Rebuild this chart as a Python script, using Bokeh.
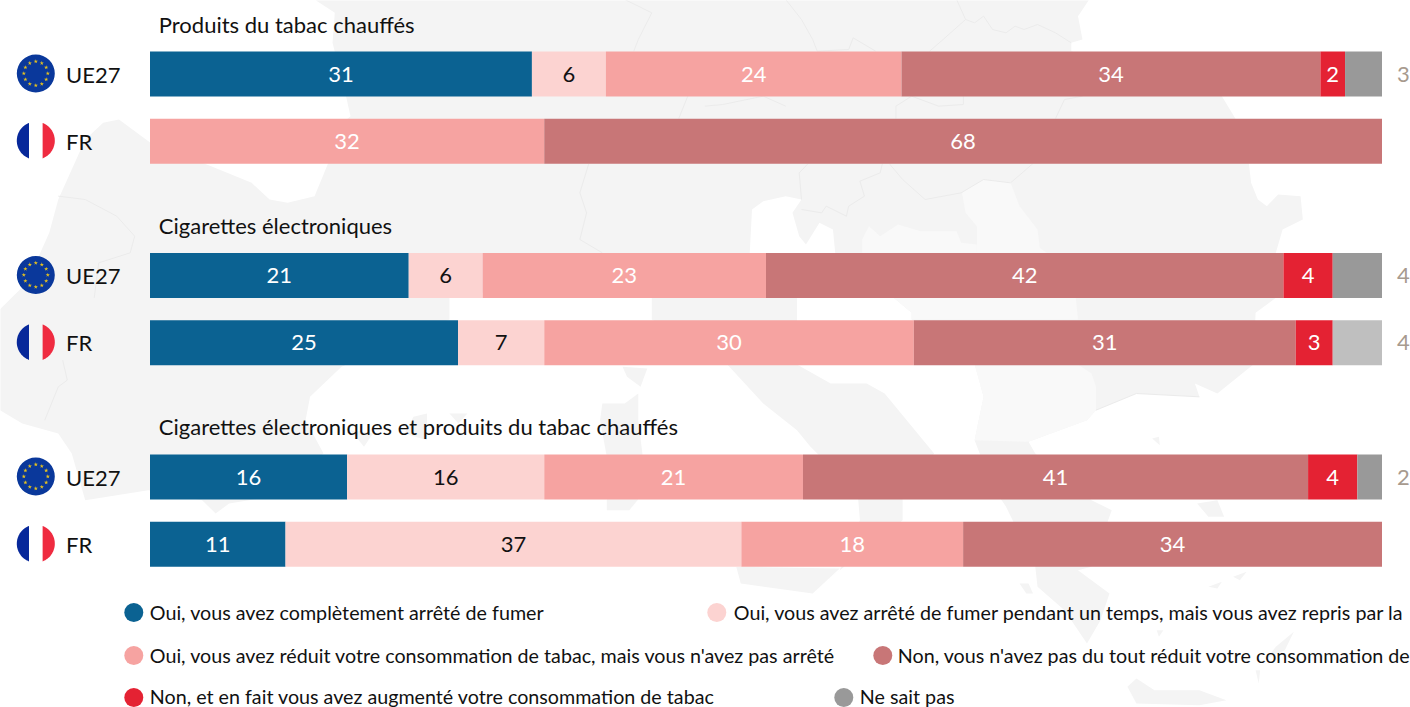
import numpy as np
from bokeh.plotting import figure
from bokeh.models import Range1d
from bokeh.core.properties import value
from bokeh.embed import file_html
from bokeh.resources import INLINE

# ---- data ----
group_titles = ["Produits du tabac chauffés", "Cigarettes électroniques",
                "Cigarettes électroniques et produits du tabac chauffés"]
row_labels = ["UE27", "FR", "UE27", "FR", "UE27", "FR"]
rows = [0, 1, 3, 4, 6, 7]
quit_full = [31, 0, 21, 25, 16, 11]
quit_temp = [6, 0, 6, 7, 16, 37]
reduced = [24, 32, 23, 30, 21, 18]
not_reduced = [34, 68, 42, 31, 41, 34]
increased = [2, 0, 4, 3, 4, 0]
dont_know = [3, 0, 4, 4, 2, 0]
series = [quit_full, quit_temp, reduced, not_reduced, increased, dont_know]
colors = ["#0b6292", "#fcd3d1", "#f6a3a1", "#c87677", "#e42233", "#999999"]
label_colors = ["white", "#111111", "white", "white", "white", None]
legend_labels = [
    "Oui, vous avez complètement arrêté de fumer",
    "Oui, vous avez arrêté de fumer pendant un temps, mais vous avez repris par la",
    "Oui, vous avez réduit votre consommation de tabac, mais vous n'avez pas arrêté",
    "Non, vous n'avez pas du tout réduit votre consommation de",
    "Non, et en fait vous avez augmenté votre consommation de tabac",
    "Ne sait pas",
]
FONT = "Lato"

# ---- layout (page pixels) ----
W, H = 1410, 707
X0, PXU = 149.5, 12.32
Y0, ROW = 73.5, 67.17
BAR_H = 45 / ROW

p = figure(width=W, height=H, output_backend="svg", toolbar_location=None,
           x_range=Range1d(-X0 / PXU, (W - X0) / PXU),
           y_range=Range1d((H - Y0) / ROW, -Y0 / ROW),
           min_border=0, outline_line_color=None)
p.xaxis.visible = False
p.yaxis.visible = False
p.grid.visible = False
p.background_fill_color = "white"
p.border_fill_color = "white"
p.extra_x_ranges["px"] = Range1d(0.7, W + 0.7)
p.extra_y_ranges["px"] = Range1d(H + 1, 1)


# ---- faint background map, traced in page pixels from zoomed crops ----
def Z(panel, pts):
    ox, oy = {6: (0, 0), 7: (705, 0), 8: (0, 354), 9: (705, 354)}[panel]
    return [(x / 2.224 + ox, y / 3 + oy) for x, y in pts]


land = (
    Z(6, [(700, 0), (745, 40), (740, 130), (770, 290), (780, 350), (735, 400), (730, 492), (700, 590),
          (640, 610), (600, 600), (560, 550), (470, 500), (335, 430), (265, 360), (230, 370), (190, 420),
          (130, 600), (110, 700), (60, 850), (0, 930)])
    + Z(8, [(0, 170), (50, 210), (130, 240), (160, 300), (190, 440), (330, 410), (450, 440), (480, 480),
            (510, 450), (600, 430), (720, 300), (680, 200), (690, 130), (760, 40)])
    + Z(6, [(1000, 960), (1000, 895), (1000, 880), (1450, 880), (1450, 960)])
    + Z(9, [(50, 33), (130, 150), (205, 230), (235, 280), (340, 420), (345, 500), (300, 650), (255, 700),
            (310, 640), (440, 500), (440, 430), (510, 300), (400, 120), (360, 90), (280, 90), (205, 33)])
    + Z(7, [(205, 960), (205, 880), (100, 760), (105, 630), (130, 605), (180, 590), (215, 600), (195, 640),
            (210, 710), (225, 735), (255, 670), (285, 690), (290, 760), (345, 895), (420, 895), (460, 940),
            (460, 960)])
    + Z(9, [(600, 30), (620, 130), (600, 260), (640, 400), (670, 460), (735, 640), (740, 700), (800, 770),
            (850, 870), (880, 800), (900, 720), (830, 650), (860, 640), (905, 470), (860, 440), (735, 300),
            (720, 265), (850, 200), (870, 170), (960, 120), (1100, 130), (1090, 90), (1140, 120), (1220, 33)])
    + Z(7, [(1225, 940), (1270, 895), (1270, 760), (1285, 690), (1330, 660), (1325, 590), (1275, 585),
            (1250, 620), (1230, 600), (1215, 550), (1210, 492), (1180, 357), (1150, 290), (815, 155),
            (815, 130), (840, 120), (830, 50), (855, 0)])
)
islands = [
    Z(9, [(70, 640), (300, 645), (240, 720), (80, 690)]),
    Z(8, [(1420, 120), (1390, 150), (1340, 150), (1335, 200), (1350, 310), (1430, 310), (1420, 200)]),
    Z(8, [(1385, 40), (1440, 45), (1425, 100), (1395, 70)]),
    Z(8, [(780, 230), (810, 280), (830, 240)]),
    Z(8, [(920, 190), (950, 180), (950, 260), (900, 240)]),
    Z(8, [(1000, 180), (1040, 180), (1020, 210)]),
    Z(8, [(1350, 437), (1420, 437), (1400, 470), (1350, 470)]),
    Z(9, [(1095, 450), (1140, 440), (1155, 490), (1120, 490)]),
    Z(9, [(700, 690), (720, 690), (730, 720), (715, 720)]),
    Z(9, [(1175, 670), (1205, 655), (1190, 680)]),
    Z(9, [(1120, 700), (1150, 685), (1140, 705)]),
    Z(9, [(940, 1000), (960, 975), (1000, 1010), (1100, 1010), (1160, 1040), (1100, 1055), (960, 1050)]),
    Z(9, [(1270, 880), (1310, 835), (1290, 890), (1250, 915)]),
    Z(9, [(1225, 950), (1235, 950), (1232, 990)]),
    Z(9, [(1005, 830), (1020, 830), (1010, 850)]),
    Z(9, [(995, 255), (1010, 250), (1012, 275)]),
]
lighter = [
    Z(7, [(350, 760), (350, 720), (365, 680), (390, 710), (430, 675), (480, 695), (560, 695), (570, 730),
          (605, 735), (605, 760)]),
    Z(7, [(572, 580), (620, 540), (680, 550), (700, 620), (740, 690), (745, 745), (760, 760), (605, 760),
          (605, 680), (580, 640)]),
    Z(7, [(420, 895), (460, 940), (460, 960), (830, 960), (825, 895)]),
    Z(9, [(600, 33), (620, 130), (600, 260), (720, 265), (850, 200), (870, 170), (870, 100), (860, 60),
          (830, 33)]),
]
borders = [
    Z(7, [(180, 0), (215, 60), (240, 120), (250, 155)]),
    Z(7, [(560, 0), (580, 60), (530, 120), (500, 155)]),
    Z(7, [(580, 60), (600, 70), (620, 50), (640, 90), (670, 100), (690, 80), (710, 90), (740, 75), (780, 100), (815, 130)]),
    Z(7, [(250, 155), (320, 150), (330, 115), (380, 155)]),
    Z(7, [(0, 320), (40, 315), (130, 290), (180, 320)]),
    Z(7, [(460, 290), (520, 320), (575, 315), (575, 290)]),
    Z(7, [(460, 290), (425, 320), (425, 357)]),
    Z(7, [(780, 357), (800, 300), (840, 290)]),
    Z(7, [(230, 492), (210, 520), (215, 600)]),
    Z(7, [(395, 492), (390, 520), (345, 545), (355, 590), (320, 620), (315, 650), (270, 620), (260, 640), (215, 630)]),
    Z(7, [(410, 492), (440, 540), (490, 600), (570, 580), (620, 540), (680, 550), (730, 492)]),
    Z(6, [(1390, 0), (1450, 40), (1420, 120), (1410, 155)]),
    Z(6, [(1530, 290), (1510, 357)]),
    Z(6, [(1310, 492), (1290, 580), (1305, 640), (1290, 720), (1340, 760)]),
    Z(6, [(130, 590), (190, 600), (260, 650), (300, 710), (290, 760), (220, 790), (210, 895)]),
    Z(8, [(100, 200), (130, 100), (150, 80), (140, 20)]),
    Z(9, [(870, 170), (960, 120), (1100, 130)]),
]


def patch(polys, color):
    p.patches([[a for a, _ in q] for q in polys], [[b for _, b in q] for q in polys],
              x_range_name="px", y_range_name="px", fill_color=color, line_color=None)


patch([land] + islands, "#f4f4f4")
patch(lighter, "#f9f9f9")
p.multi_line([[a for a, _ in q] for q in borders], [[b for _, b in q] for q in borders],
             x_range_name="px", y_range_name="px", line_color="#ebebeb", line_width=1)

# ---- stacked bars ----
left = np.zeros(len(rows))
for vals, col, lc in zip(series, colors, label_colors):
    vals_a = np.array(vals, dtype=float)
    right = left + vals_a
    keep = vals_a > 0
    ys = np.array(rows)[keep]
    fills = [col] * int(keep.sum())
    if col == "#999999":
        fills = ["#bfbfbf" if r == 4 else col for r in ys]
    p.hbar(y=ys, left=left[keep], right=right[keep], height=BAR_H, fill_color=fills, line_color=None)
    if lc:
        p.text(x=((left + right) / 2)[keep], y=ys, text=[str(int(v)) for v in vals_a[keep]],
               text_color=lc, text_font=value(FONT), text_font_size="22px",
               text_align="center", text_baseline="middle")
    else:
        p.text(x=[(1396.5 - X0) / PXU] * int(keep.sum()), y=ys, text=[str(int(v)) for v in vals_a[keep]],
               text_color="#a79a8e", text_font=value(FONT), text_font_size="22px",
               text_align="left", text_baseline="middle")
    left = right

# ---- row labels & flags ----
p.text(x=[(65.5 - X0) / PXU] * len(rows), y=rows, text=row_labels, text_color="#111111",
       text_font=value(FONT), text_font_size="22px", text_align="left", text_baseline="middle")

FX, FR_R = 36.0, 19.0
for r, lab in zip(rows, row_labels):
    cy = Y0 + 1 + r * ROW - 0.5
    if lab == "UE27":
        p.scatter(x=[FX], y=[cy], x_range_name="px", y_range_name="px", size=2 * FR_R,
                  fill_color="#0a389b", line_color=None)
        ang = np.arange(12) * np.pi / 6
        p.scatter(x=FX + 12 * np.cos(ang), y=cy + 12 * np.sin(ang), x_range_name="px", y_range_name="px",
                  marker="star", size=4.5, fill_color="#e6c21f", line_color=None)
    else:
        t = np.linspace(0, 2 * np.pi, 121)
        cx_pts, cy_pts = FX + FR_R * np.cos(t), cy + FR_R * np.sin(t)
        for mask, col in ((cx_pts <= 30, "#07289a"), (cx_pts >= 42, "#ef2b40")):
            o = np.argsort(np.arctan2(cy_pts[mask] - cy, cx_pts[mask] - (30 if col == "#07289a" else 42)))
            p.patch(cx_pts[mask][o], cy_pts[mask][o], x_range_name="px", y_range_name="px",
                    fill_color=col, line_color=None)

# ---- group titles ----
p.text(x=[159] * 3, y=[25, 226, 427], text=group_titles, x_range_name="px", y_range_name="px",
       text_color="#111111", text_font=value(FONT), text_font_size="22px",
       text_align="left", text_baseline="middle")

# ---- legend ----
p.scatter(x=[134, 717, 134, 883, 134, 844], y=[613, 613, 656, 656, 698, 698], x_range_name="px", y_range_name="px",
          size=19, fill_color=colors, line_color=None)
p.text(x=[150, 734, 150, 898, 150, 860], y=[613, 613, 656, 656, 697, 697], text=legend_labels,
       x_range_name="px", y_range_name="px", text_color="#111111", text_font=value(FONT),
       text_font_size="19.7px", text_align="left", text_baseline="middle")

open("out.html", "w").write(file_html(p, INLINE))
